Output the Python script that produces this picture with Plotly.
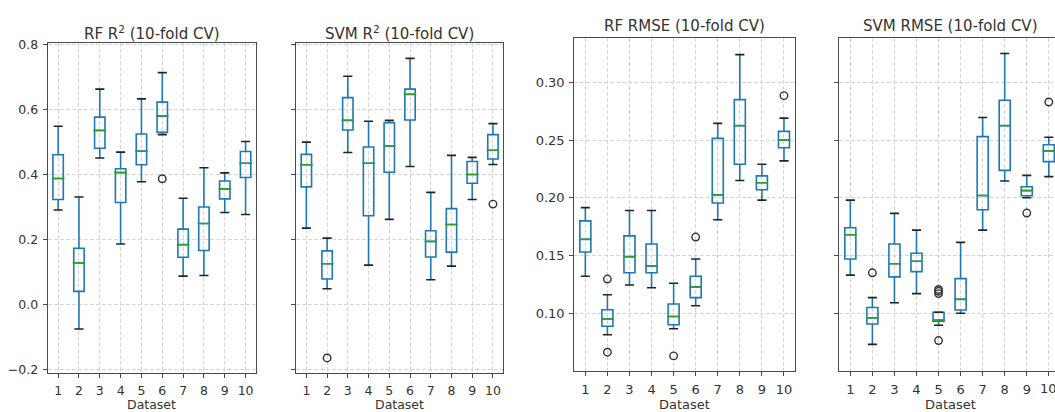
import plotly.graph_objects as go

datasets = [1, 2, 3, 4, 5, 6, 7, 8, 9, 10]
x_tick_labels = ["1", "2", "3", "4", "5", "6", "7", "8", "9", "10"]

# RF R2
rf_r2_lo = [0.291, -0.076, 0.451, 0.186, 0.378, 0.523, 0.087, 0.089, 0.283, 0.277]
rf_r2_q1 = [0.323, 0.040, 0.481, 0.314, 0.430, 0.530, 0.145, 0.166, 0.325, 0.391]
rf_r2_med = [0.388, 0.128, 0.536, 0.406, 0.472, 0.580, 0.184, 0.249, 0.356, 0.435]
rf_r2_q3 = [0.461, 0.173, 0.577, 0.418, 0.525, 0.623, 0.232, 0.300, 0.380, 0.471]
rf_r2_hi = [0.549, 0.331, 0.663, 0.469, 0.633, 0.714, 0.327, 0.421, 0.405, 0.502]
rf_r2_out_x = [6]
rf_r2_out_y = [0.387]

# SVM R2
svm_r2_lo = [0.235, 0.048, 0.468, 0.121, 0.262, 0.425, 0.076, 0.118, 0.323, 0.431]
svm_r2_q1 = [0.362, 0.078, 0.537, 0.273, 0.407, 0.568, 0.146, 0.161, 0.373, 0.448]
svm_r2_med = [0.430, 0.125, 0.567, 0.435, 0.488, 0.647, 0.194, 0.246, 0.400, 0.475]
svm_r2_q3 = [0.462, 0.165, 0.637, 0.485, 0.560, 0.663, 0.227, 0.295, 0.440, 0.523]
svm_r2_hi = [0.500, 0.204, 0.703, 0.564, 0.567, 0.758, 0.345, 0.459, 0.453, 0.557]
svm_r2_out_x = [2, 10]
svm_r2_out_y = [-0.165, 0.309]

# RF RMSE
rf_rmse_lo = [0.132, 0.0814, 0.1245, 0.122, 0.0865, 0.1065, 0.181, 0.215, 0.198, 0.232]
rf_rmse_q1 = [0.153, 0.0887, 0.135, 0.135, 0.090, 0.1135, 0.1955, 0.229, 0.207, 0.2434]
rf_rmse_med = [0.164, 0.095, 0.149, 0.141, 0.0972, 0.1228, 0.2025, 0.2625, 0.213, 0.250]
rf_rmse_q3 = [0.180, 0.103, 0.167, 0.160, 0.108, 0.132, 0.2515, 0.285, 0.219, 0.2575]
rf_rmse_hi = [0.1915, 0.116, 0.189, 0.189, 0.126, 0.147, 0.2645, 0.324, 0.229, 0.269]
rf_rmse_out_x = [2, 2, 5, 6, 10]
rf_rmse_out_y = [0.1296, 0.0662, 0.063, 0.166, 0.2885]

# SVM RMSE
svm_rmse_lo = [0.133, 0.073, 0.109, 0.117, 0.0896, 0.100, 0.172, 0.2146, 0.200, 0.2183]
svm_rmse_q1 = [0.147, 0.0907, 0.1315, 0.136, 0.093, 0.1028, 0.1896, 0.2237, 0.2017, 0.2313]
svm_rmse_med = [0.168, 0.0958, 0.1428, 0.145, 0.094, 0.112, 0.202, 0.2625, 0.2062, 0.2406]
svm_rmse_q3 = [0.174, 0.105, 0.160, 0.152, 0.1008, 0.130, 0.253, 0.2845, 0.2096, 0.246]
svm_rmse_hi = [0.198, 0.1135, 0.1865, 0.172, 0.1008, 0.1614, 0.2696, 0.325, 0.2194, 0.2524]
svm_rmse_out_x = [2, 5, 5, 5, 5, 9, 10]
svm_rmse_out_y = [0.135, 0.1206, 0.119, 0.117, 0.0763, 0.1868, 0.283]

r2_tickvals = [-0.2, 0.0, 0.2, 0.4, 0.6, 0.8]
r2_ticktext = ["\u22120.2", "0.0", "0.2", "0.4", "0.6", "0.8"]
rmse_tickvals = [0.10, 0.15, 0.20, 0.25, 0.30]
rmse_ticktext = ["0.10", "0.15", "0.20", "0.25", "0.30"]

titles = ["RF R<sup>2</sup> (10-fold CV)", "SVM R<sup>2</sup> (10-fold CV)",
          "RF RMSE (10-fold CV)", "SVM RMSE (10-fold CV)"]

W, H = 1055, 412
BLUE = "#1f77b4"
GREEN = "#2ca02c"
TXT = "#333333"
FRAME = "#4a4a4a"
GRID = "#d6d6d6"
FONT = "DejaVu Sans"

panels = [
    dict(lo=rf_r2_lo, q1=rf_r2_q1, med=rf_r2_med, q3=rf_r2_q3, hi=rf_r2_hi,
         ox=rf_r2_out_x, oy=rf_r2_out_y),
    dict(lo=svm_r2_lo, q1=svm_r2_q1, med=svm_r2_med, q3=svm_r2_q3, hi=svm_r2_hi,
         ox=svm_r2_out_x, oy=svm_r2_out_y),
    dict(lo=rf_rmse_lo, q1=rf_rmse_q1, med=rf_rmse_med, q3=rf_rmse_q3, hi=rf_rmse_hi,
         ox=rf_rmse_out_x, oy=rf_rmse_out_y),
    dict(lo=svm_rmse_lo, q1=svm_rmse_q1, med=svm_rmse_med, q3=svm_rmse_q3, hi=svm_rmse_hi,
         ox=svm_rmse_out_x, oy=svm_rmse_out_y),
]

# pixel layout (left, right, top, bottom)
px_dom = [(47.7, 256.0, 38.0, 376.0), (296.0, 503.3, 38.0, 376.0),
          (574.3, 795.0, 33.3, 374.0), (839.3, 1055.0, 33.3, 374.0)]
x_ranges = [[0.5, 10.5], [0.5, 10.5], [0.5, 10.5], [0.5, 10.28]]
y_ranges = [[-0.211, 0.805], [-0.211, 0.805], [0.050, 0.338], [0.050, 0.338]]
title_centers = [151.8, 399.7, 684.6, 950.0]
title_y = [27.5, 27.5, 21, 21]
label_sizes = [12.5, 12.5, 13, 13]

fig = go.Figure()
layout = dict(width=W, height=H, margin=dict(l=0, r=0, t=0, b=0),
              paper_bgcolor="white", plot_bgcolor="white", showlegend=False,
              font=dict(family=FONT, size=12, color=TXT))
annotations = []

for i, p in enumerate(panels):
    n = i + 1
    xa = "x" if n == 1 else f"x{n}"
    ya = "y" if n == 1 else f"y{n}"
    fig.add_trace(go.Box(
        x=datasets, q1=p["q1"], median=p["med"], q3=p["q3"],
        lowerfence=p["lo"], upperfence=p["hi"], width=0.5,
        boxpoints=False, whiskerwidth=0,
        line=dict(color=BLUE, width=1.6), fillcolor="rgba(0,0,0,0)",
        xaxis=xa, yaxis=ya, hoverinfo="skip"))
    # medians
    fig.add_trace(go.Scatter(
        x=datasets, y=p["med"], mode="markers", xaxis=xa, yaxis=ya,
        marker=dict(symbol="line-ew", size=9, line=dict(color=GREEN, width=1.5)),
        hoverinfo="skip"))
    # caps
    fig.add_trace(go.Scatter(
        x=datasets + datasets, y=p["lo"] + p["hi"], mode="markers", xaxis=xa, yaxis=ya,
        marker=dict(symbol="line-ew", size=6.5, line=dict(color="#222222", width=1.6)),
        hoverinfo="skip"))
    # outliers
    fig.add_trace(go.Scatter(
        x=p["ox"], y=p["oy"], mode="markers", xaxis=xa, yaxis=ya,
        marker=dict(symbol="circle-open", size=7.5, color="#333333",
                    line=dict(color="#333333", width=1.4)),
        hoverinfo="skip"))

    l, r, t, b = px_dom[i]
    xkey = "xaxis" if n == 1 else f"xaxis{n}"
    ykey = "yaxis" if n == 1 else f"yaxis{n}"
    fs = label_sizes[i]
    xt = list(x_tick_labels)
    if n == 4:
        xt[-1] = ""  # drawn as clipped annotation below
    layout[xkey] = dict(
        domain=[l / W, r / W], range=x_ranges[i], anchor=ya,
        tickvals=datasets, ticktext=xt, ticks="outside", ticklen=4,
        ticklabelstandoff=2,
        tickcolor=FRAME, showline=True, linecolor=FRAME, linewidth=1.2, mirror=True,
        showgrid=True, gridcolor=GRID, griddash="4px,2px", gridwidth=0.8,
        zeroline=False, tickfont=dict(size=fs, color=TXT))
    is_r2 = i < 2
    layout[ykey] = dict(
        domain=[1 - b / H, 1 - t / H], range=y_ranges[i], anchor=xa,
        tickvals=r2_tickvals if is_r2 else rmse_tickvals,
        ticktext=r2_ticktext if is_r2 else rmse_ticktext,
        showticklabels=(i % 2 == 0), ticks="outside", ticklen=4, tickcolor=FRAME,
        ticklabelstandoff=2,
        showline=True, linecolor=FRAME, linewidth=1.2, mirror=(i != 3),
        showgrid=True, gridcolor=GRID, griddash="4px,2px", gridwidth=0.8,
        zeroline=False, tickfont=dict(size=fs, color=TXT))
    annotations.append(dict(
        text=titles[i], x=title_centers[i] / W, y=1 - title_y[i] / H,
        xref="paper", yref="paper", xanchor="center", yanchor="middle",
        showarrow=False, font=dict(size=15, color=TXT, family=FONT)))
    annotations.append(dict(
        text="Dataset", x=((l + (r if n != 4 else 1061)) / 2) / W, y=1 - 408.5 / H,
        xref="paper", yref="paper", xanchor="center", yanchor="middle",
        showarrow=False, font=dict(size=fs, color=TXT, family=FONT)))

# clipped "10" tick label of the last panel
annotations.append(dict(
    text=x_tick_labels[-1], x=datasets[-1], xref="x4", y=1 - 392 / H, yref="paper",
    xanchor="center", yanchor="middle", showarrow=False,
    font=dict(size=label_sizes[3], color=TXT, family=FONT)))

layout["annotations"] = annotations
fig.update_layout(**layout)
fig.write_html("out.html")
